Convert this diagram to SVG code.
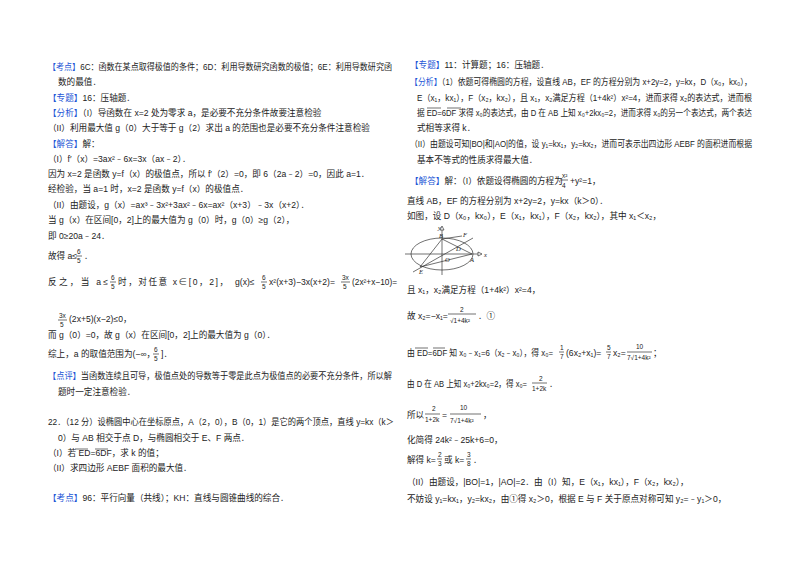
<svg xmlns="http://www.w3.org/2000/svg" width="800" height="565" viewBox="0 0 800 565">
<style>
text{font-family:"Liberation Sans","Noto Sans CJK SC",sans-serif;font-size:8.6px;fill:#222}
.b{fill:#2456d6}
.s{font-size:6.5px}
.i{font-family:"Liberation Serif","Noto Sans CJK SC",serif;font-style:italic}
line,ellipse,path{stroke:#333;stroke-width:0.7;fill:none}
</style>
<rect width="800" height="565" fill="#fff"/>
<g id="left">
<text x="48" y="70" textLength="344" lengthAdjust="spacingAndGlyphs"><tspan class="b">【考点】</tspan>6C：函数在某点取得极值的条件；6D：利用导数研究函数的极值；6E：利用导数研究函</text>
<text x="58" y="85">数的最值．</text>
<text x="48" y="101"><tspan class="b">【专题】</tspan>16：压轴题．</text>
<text x="48" y="116"><tspan class="b">【分析】</tspan>（I）导函数在 x=2 处为零求 a，是必要不充分条件故要注意检验</text>
<text x="48" y="131">（II）利用最大值 g（0）大于等于 g（2）求出 a 的范围也是必要不充分条件注意检验</text>
<text x="48" y="147"><tspan class="b">【解答】</tspan>解：</text>
<text x="48" y="162">（I）f′（x）=3ax²﹣6x=3x（ax﹣2）．</text>
<text x="48" y="177">因为 x=2 是函数 y=f（x）的极值点，所以 f′（2）=0，即 6（2a﹣2）=0，因此 a=1．</text>
<text x="48" y="192">经检验，当 a=1 时，x=2 是函数 y=f（x）的极值点．</text>
<text x="48" y="208">（II）由题设，g（x）=ax³﹣3x²+3ax²﹣6x=ax²（x+3）﹣3x（x+2）．</text>
<text x="48" y="223">当 g（x）在区间[0，2]上的最大值为 g（0）时，g（0）≥g（2），</text>
<text x="48" y="239">即 0≥20a﹣24．</text>
<text x="48" y="259">故得 a≤</text>
<text x="77" y="254" class="s">6</text><line x1="76" y1="256" x2="82" y2="256"/><text x="77" y="263" class="s">5</text>
<text x="84" y="259">．</text>
<text x="48" y="285" textLength="60" lengthAdjust="spacing">反之，当 a≤</text>
<text x="111" y="280" class="s">6</text><line x1="110" y1="282" x2="116" y2="282"/><text x="111" y="289" class="s">5</text>
<text x="118" y="285" textLength="110" lengthAdjust="spacing">时，对任意 x∈[0，2]，</text>
<text x="235" y="285">g(x)≤</text>
<text x="262" y="280" class="s">6</text><line x1="261" y1="282" x2="267" y2="282"/><text x="262" y="289" class="s">5</text>
<text x="269" y="285">x²(x+3)−3x(x+2)=</text>
<text x="342" y="280" class="s">3x</text><line x1="341" y1="282" x2="350" y2="282"/><text x="343" y="289" class="s">5</text>
<text x="352" y="285" textLength="45" lengthAdjust="spacingAndGlyphs">(2x²+x−10)=</text>
<text x="59" y="318" class="s">3x</text><line x1="58" y1="320" x2="67" y2="320"/><text x="60" y="327" class="s">5</text>
<text x="69" y="322">(2x+5)(x−2)≤0，</text>
<text x="48" y="338">而 g（0）=0，故 g（x）在区间[0，2]上的最大值为 g（0）．</text>
<text x="48" y="357">综上，a 的取值范围为(−∞，</text>
<text x="154" y="352" class="s">6</text><line x1="153" y1="354" x2="159" y2="354"/><text x="154" y="361" class="s">5</text>
<text x="161" y="357">]．</text>
<text x="48" y="379" textLength="344" lengthAdjust="spacingAndGlyphs"><tspan class="b">【点评】</tspan>当函数连续且可导，极值点处的导数等于零是此点为极值点的必要不充分条件，所以解</text>
<text x="58" y="395">题时一定注意检验．</text>
<text x="48" y="425" textLength="346" lengthAdjust="spacingAndGlyphs">22．（12 分）设椭圆中心在坐标原点，A（2，0），B（0，1）是它的两个顶点，直线 y=kx（k＞</text>
<text x="58" y="441">0）与 AB 相交于点 D，与椭圆相交于 E、F 两点．</text>
<text x="48" y="456">（I）若 ED=6DF，求 k 的值；</text>
<line x1="75" y1="449" x2="88" y2="449"/><line x1="95" y1="449" x2="108" y2="449"/>
<text x="48" y="471">（II）求四边形 AEBF 面积的最大值．</text>
<text x="48" y="501"><tspan class="b">【考点】</tspan>96：平行向量（共线）；KH：直线与圆锥曲线的综合．</text>
</g>
<g id="right">
<text x="410" y="68"><tspan class="b">【专题】</tspan>11：计算题；16：压轴题．</text>
<text x="410" y="85" textLength="342" lengthAdjust="spacingAndGlyphs"><tspan class="b">【分析】</tspan>（1）依题可得椭圆的方程，设直线 AB，EF 的方程分别为 x+2y=2，y=kx，D（x₀，kx₀），</text>
<text x="417" y="101" textLength="335" lengthAdjust="spacingAndGlyphs">E（x₁，kx₁），F（x₂，kx₂），且 x₁，x₂满足方程（1+4k²）x²=4，进而求得 x₂的表达式，进而根</text>
<text x="417" y="116" textLength="335" lengthAdjust="spacingAndGlyphs">据 ED=6DF 求得 x₀的表达式，由 D 在 AB 上知 x₀+2kx₀=2，进而求得 x₀的另一个表达式，两个表达</text>
<line x1="427" y1="108" x2="441" y2="108"/><line x1="447" y1="108" x2="461" y2="108"/>
<text x="417" y="131">式相等求得 k．</text>
<text x="410" y="147" textLength="342" lengthAdjust="spacingAndGlyphs">（II）由题设可知|BO|和|AO|的值，设 y₁=kx₁，y₂=kx₂，进而可表示出四边形 AEBF 的面积进而根据</text>
<text x="417" y="163">基本不等式的性质求得最大值．</text>
<text x="410" y="184"><tspan class="b">【解答】</tspan>解：（I）依题设得椭圆的方程为</text>
<text x="562" y="178" class="s">x²</text><line x1="560" y1="180" x2="568" y2="180"/><text x="562" y="188" class="s">4</text>
<text x="570" y="184">+y²=1，</text>
<text x="407" y="204">直线 AB，EF 的方程分别为 x+2y=2，y=kx（k＞0）．</text>
<text x="407" y="219">如图，设 D（x₀，kx₀），E（x₁，kx₁），F（x₂，kx₂），其中 x₁＜x₂，</text>
<g id="figure">
<ellipse cx="442" cy="254" rx="31" ry="16"/>
<line x1="405" y1="254" x2="478" y2="254"/><path d="M478 252 L482 254 L478 256 Z" fill="#333"/>
<line x1="442" y1="275" x2="442" y2="230"/><path d="M440 230 L442 226 L444 230 Z" fill="#333"/>
<line x1="442" y1="239" x2="472" y2="254"/>
<line x1="413" y1="272" x2="473" y2="238"/>
<line x1="420" y1="267" x2="472" y2="254"/>
<line x1="420" y1="267" x2="442" y2="239"/>
<line x1="442" y1="239" x2="462" y2="236"/>
<text x="438" y="230" class="s i">y</text><text x="484" y="257" class="s i">x</text>
<text x="439" y="238" class="s i">B</text><text x="463" y="237" class="s i">F</text>
<text x="456" y="251" class="s i">D</text><text x="445" y="262" class="s i">O</text>
<text x="470" y="262" class="s i">A</text><text x="419" y="274" class="s i">E</text>
</g>
<text x="407" y="293">且 x₁，x₂满足方程（1+4k²）x²=4，</text>
<text x="407" y="319">故 x₂=−x₁=</text>
<text x="460" y="312" class="s">2</text><line x1="448" y1="314" x2="476" y2="314"/><text x="450" y="323" class="s">√1+4k²</text>
<text x="478" y="319">．①</text>
<text x="407" y="356" textLength="146" lengthAdjust="spacingAndGlyphs">由 ED=6DF 知 x₀﹣x₁=6（x₂﹣x₀），得 x₀=</text>
<line x1="415" y1="348" x2="428" y2="348"/><line x1="433" y1="348" x2="445" y2="348"/>
<text x="560" y="350" class="s">1</text><line x1="559" y1="352" x2="564" y2="352"/><text x="560" y="359" class="s">7</text>
<text x="566" y="356">(6x₂+x₁)=</text>
<text x="607" y="350" class="s">5</text><line x1="606" y1="352" x2="611" y2="352"/><text x="607" y="359" class="s">7</text>
<text x="613" y="356">x₂=</text>
<text x="636" y="349" class="s">10</text><line x1="627" y1="352" x2="652" y2="352"/><text x="627" y="360" class="s">7√1+4k²</text>
<text x="653" y="356">；</text>
<text x="407" y="387" textLength="120" lengthAdjust="spacingAndGlyphs">由 D 在 AB 上知 x₀+2kx₀=2，得 x₀=</text>
<text x="539" y="381" class="s">2</text><line x1="532" y1="383" x2="547" y2="383"/><text x="532" y="391" class="s">1+2k</text>
<text x="549" y="387">．</text>
<text x="407" y="418">所以</text>
<text x="432" y="411" class="s">2</text><line x1="425" y1="414" x2="440" y2="414"/><text x="425" y="422" class="s">1+2k</text>
<text x="442" y="418">=</text>
<text x="460" y="410" class="s">10</text><line x1="450" y1="414" x2="481" y2="414"/><text x="450" y="423" class="s">7√1+4k²</text>
<text x="483" y="418">，</text>
<text x="407" y="443">化简得 24k²﹣25k+6=0，</text>
<text x="407" y="463">解得 k=</text>
<text x="438" y="457" class="s">2</text><line x1="437" y1="459" x2="442" y2="459"/><text x="438" y="466" class="s">3</text>
<text x="444" y="463">或 k=</text>
<text x="467" y="457" class="s">3</text><line x1="466" y1="459" x2="471" y2="459"/><text x="467" y="466" class="s">8</text>
<text x="473" y="463">．</text>
<text x="407" y="485">（II）由题设，|BO|=1，|AO|=2．由（I）知，E（x₁，kx₁），F（x₂，kx₂），</text>
<text x="407" y="502">不妨设 y₁=kx₁，y₂=kx₂，由①得 x₂＞0，根据 E 与 F 关于原点对称可知 y₂=﹣y₁＞0，</text>
</g>
</svg>
